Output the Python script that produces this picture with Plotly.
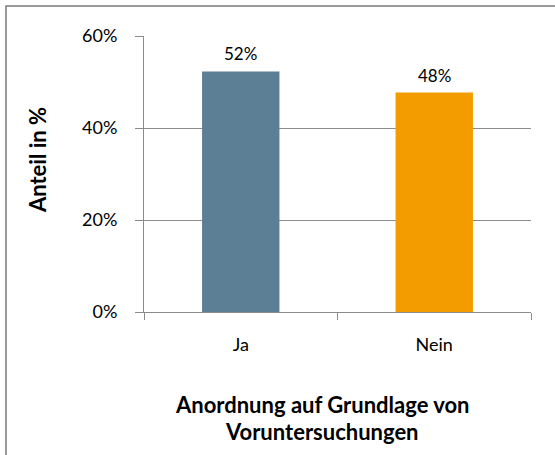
import plotly.graph_objects as go

categories = ["Ja", "Nein"]
values = [52.3, 47.7]
value_labels = ["52%", "48%"]
bar_colors = ["#5D7F95", "#F39C00"]
y_ticks = [0, 20, 40, 60]
y_tick_labels = ["0%", "20%", "40%", "60%"]
x_title_lines = ["Anordnung auf Grundlage von", "Voruntersuchungen"]
y_title = "Anteil in %"

W, H = 555, 455
L, R, T, B = 144, 24, 35.5, 142.5
pw, ph = W - L - R, H - T - B
FONT = "Lato"
GRID = "#8C8C8C"

fig = go.Figure(go.Bar(
    x=categories, y=values, width=0.4,
    marker=dict(color=bar_colors, line=dict(width=0)),
    hoverinfo="x+y",
))

def px_x(p):
    return (p - L) / pw

def px_y(p):
    return (H - B - p) / ph

annotations = [
    dict(text=lab, x=c, y=v, xref="x", yref="y", showarrow=False,
         xanchor="center", yanchor="bottom", yshift=5,
         font=dict(family=FONT, size=17, color="#000000"))
    for c, v, lab in zip(categories, values, value_labels)
]
annotations.append(
    dict(text="<b>" + y_title + "</b>", textangle=-90, xref="paper", yref="paper",
         x=px_x(37), y=px_y(160), showarrow=False, xanchor="center", yanchor="middle",
         font=dict(family=FONT, size=22, color="#000000")))
for line, ypx in zip(x_title_lines, [405, 432]):
    annotations.append(
        dict(text="<b>" + line + "</b>", xref="paper", yref="paper",
             x=px_x(322), y=px_y(ypx), showarrow=False, xanchor="center", yanchor="middle",
             font=dict(family=FONT, size=22, color="#000000")))

fig.update_layout(
    width=W, height=H,
    margin=dict(l=L, r=R, t=T, b=B),
    paper_bgcolor="white", plot_bgcolor="white",
    showlegend=False,
    font=dict(family=FONT, size=18, color="#000000"),
    xaxis=dict(
        type="category", tickson="boundaries", ticks="outside", ticklen=7,
        tickcolor=GRID, showline=True, linecolor=GRID, linewidth=1,
        showgrid=False, tickfont=dict(family=FONT, size=18),
        ticklabelstandoff=16,
    ),
    yaxis=dict(
        range=[0, 60], tickvals=y_ticks, ticktext=y_tick_labels,
        ticks="outside", ticklen=8, tickcolor=GRID,
        showline=True, linecolor=GRID, linewidth=1,
        showgrid=True, gridcolor=GRID, gridwidth=1,
        zeroline=False, tickfont=dict(family=FONT, size=18),
        ticklabelstandoff=14,
    ),
    annotations=annotations,
    shapes=[
        dict(type="rect", xref="paper", yref="paper",
             x0=px_x(6), x1=px_x(W + 20), y0=px_y(H + 20), y1=px_y(5.5),
             line=dict(color="#7A7A7A", width=1.5), layer="below"),
    ],
)

fig.write_html("out.html", config={"displayModeBar": False},
               post_script="document.body.style.margin='0px';")
